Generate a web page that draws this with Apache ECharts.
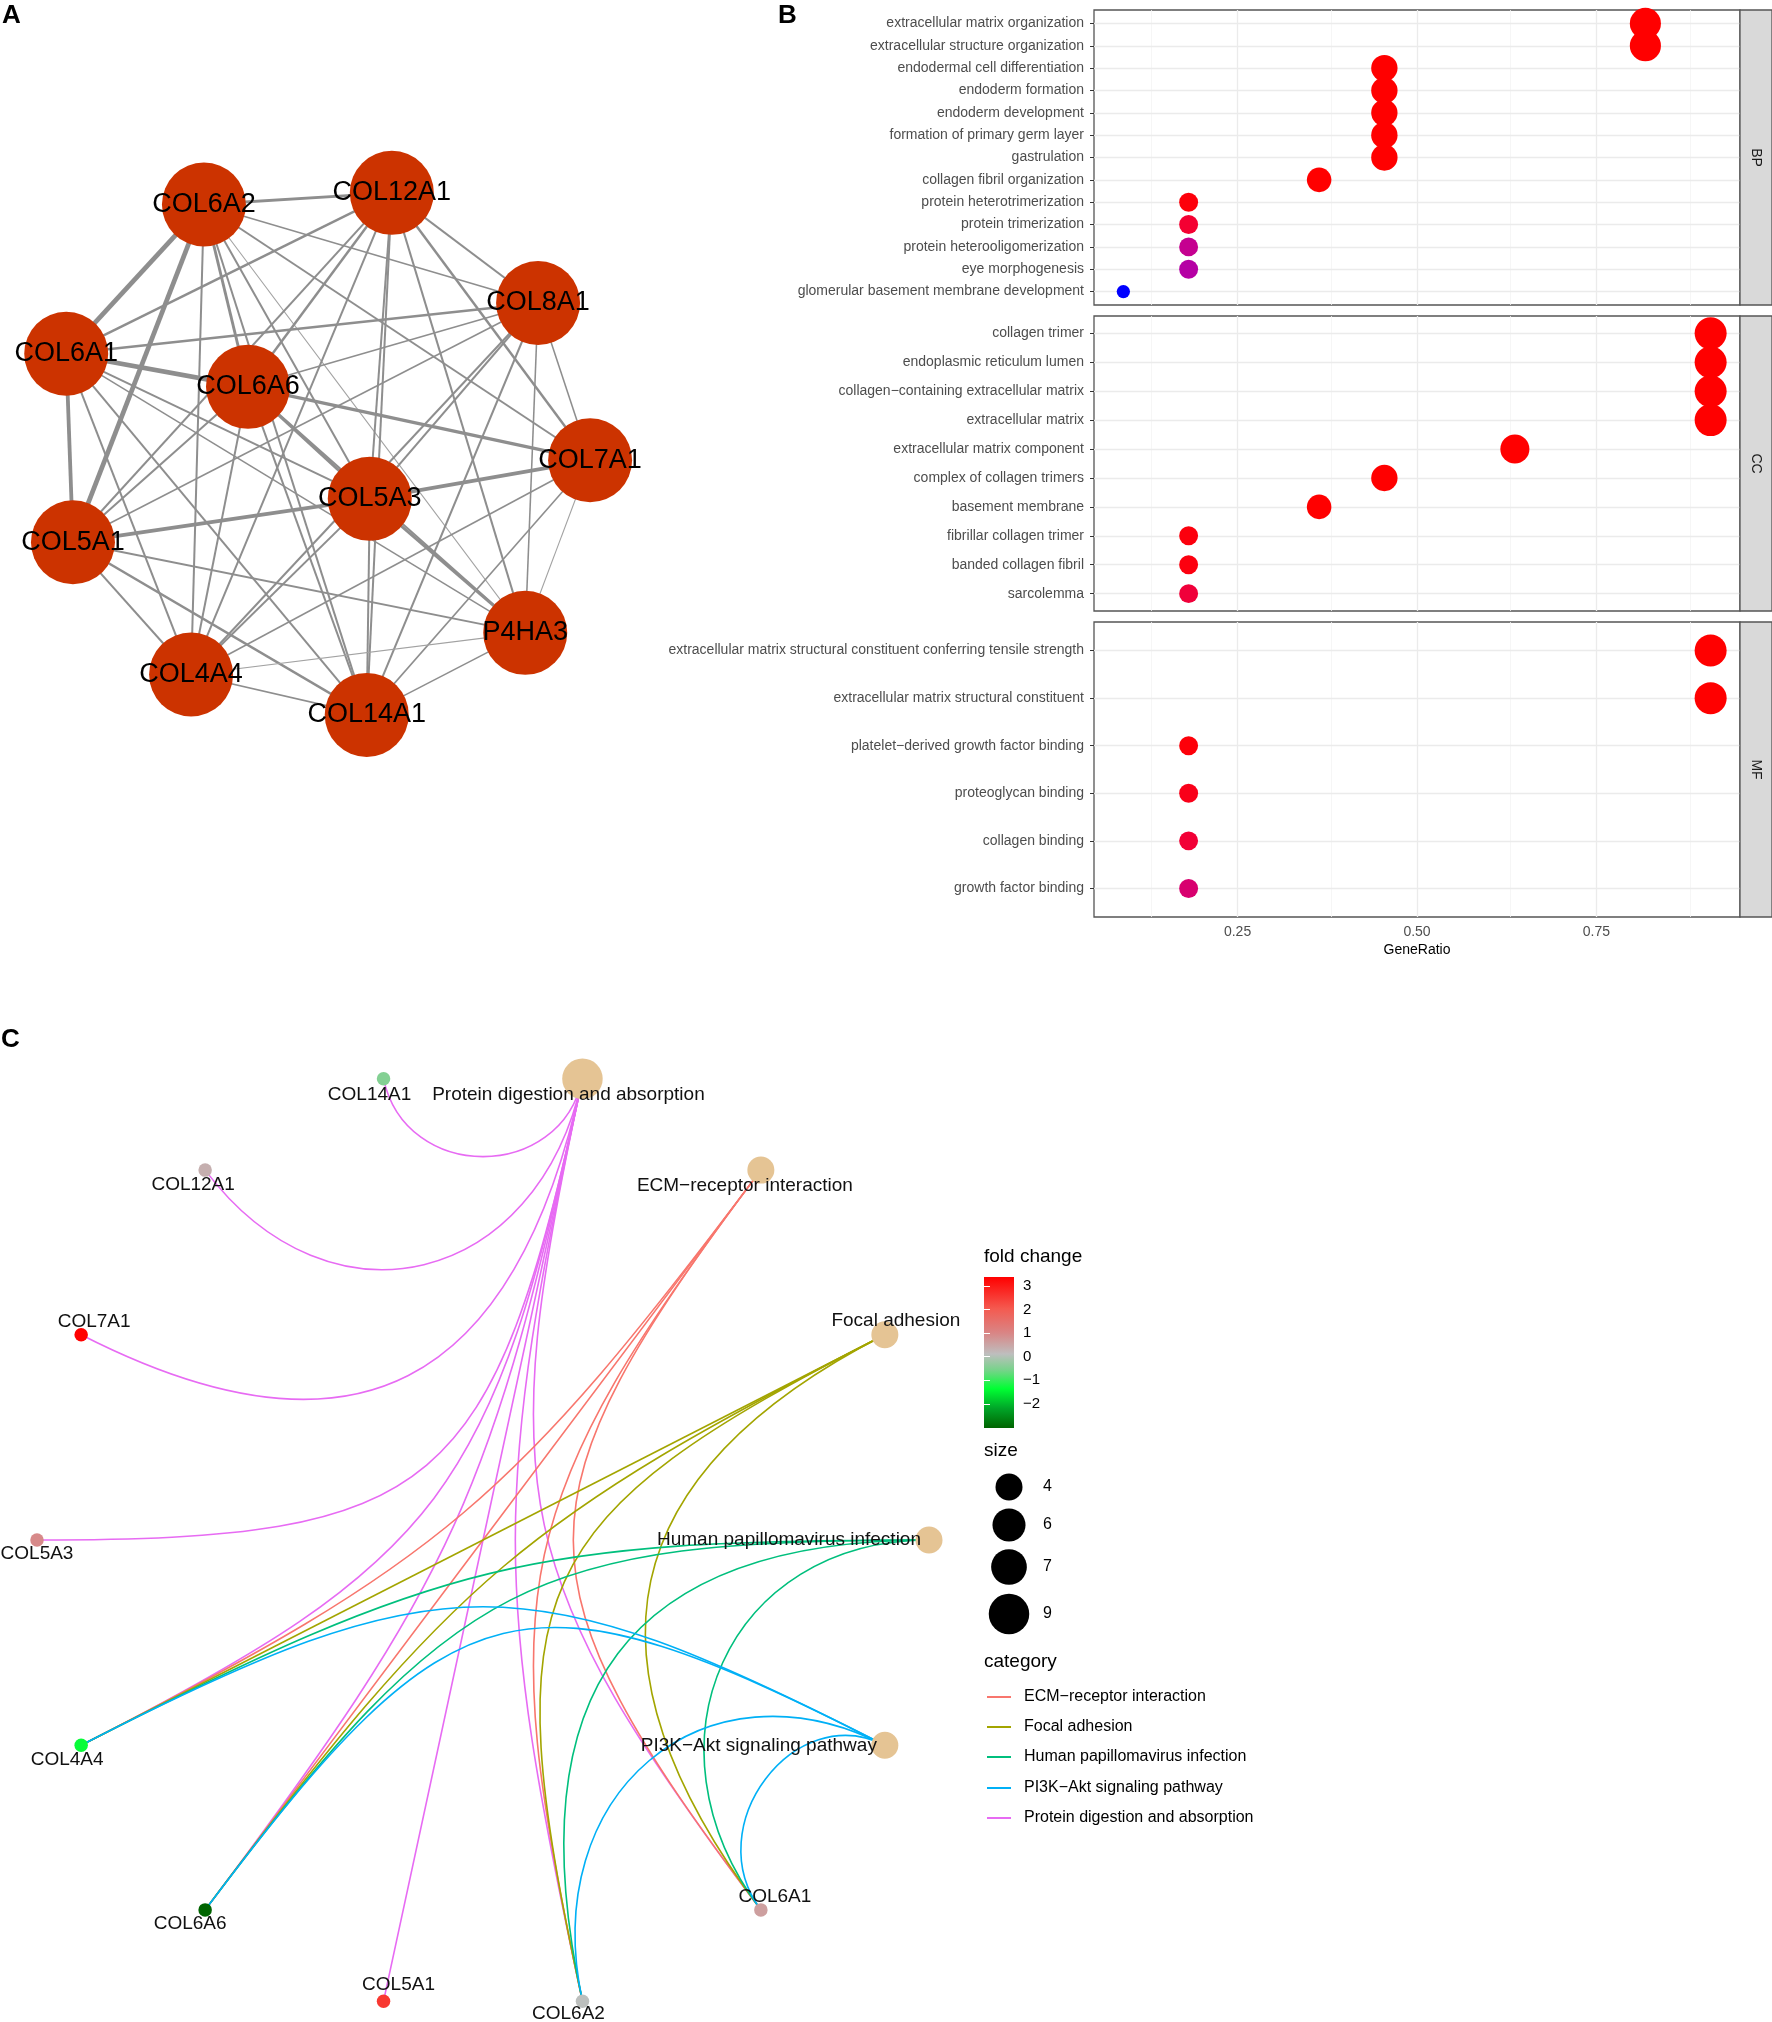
<!DOCTYPE html>
<html><head><meta charset="utf-8">
<script src="https://cdn.jsdelivr.net/npm/echarts@6/dist/echarts.min.js"></script>
<style>html,body{margin:0;padding:0;background:#fff}#c{width:1772px;height:2022px}</style>
</head><body><div id="c"></div>
<script>
const FONT = 'Liberation Sans, Arial, Helvetica, sans-serif';

// ---------------- Panel A : PPI network (layout coordinates, 0-100) ----------------
const ppiGenes   = ['COL6A2','COL12A1','COL8A1','COL6A1','COL6A6','COL7A1','COL5A3','COL5A1','P4HA3','COL4A4','COL14A1'];
const ppiLayoutX = [29.4, 60.1, 84.0, 6.9, 36.6, 92.5, 56.5, 8.0, 81.9, 27.3, 56.0];
const ppiLayoutY = [91.1, 93.0, 75.0, 66.7, 61.3, 49.3, 43.0, 35.9, 21.1, 14.3, 7.7];
// [gene, gene, interaction weight 1..5]
const ppiEdges = [
 ['COL6A2','COL12A1',3],['COL6A2','COL6A1',5],['COL6A2','COL5A1',5],['COL6A2','COL6A6',3],
 ['COL6A2','COL4A4',2],['COL6A2','COL5A3',2],['COL6A2','COL14A1',2],['COL6A2','P4HA3',1],
 ['COL6A2','COL8A1',1.5],['COL6A2','COL7A1',2],
 ['COL12A1','COL6A1',2.5],['COL12A1','COL6A6',2.5],['COL12A1','COL5A1',2],['COL12A1','COL4A4',2],
 ['COL12A1','COL5A3',2],['COL12A1','COL14A1',2],['COL12A1','COL8A1',2],['COL12A1','COL7A1',2.5],
 ['COL12A1','P4HA3',2],
 ['COL8A1','COL6A1',2.5],['COL8A1','COL6A6',1.5],['COL8A1','COL5A1',1.5],['COL8A1','COL5A3',2],
 ['COL8A1','COL4A4',2],['COL8A1','COL14A1',2],['COL8A1','COL7A1',1.5],['COL8A1','P4HA3',1.5],
 ['COL6A1','COL6A6',5],['COL6A1','COL5A1',4],['COL6A1','COL5A3',2],['COL6A1','COL4A4',2],
 ['COL6A1','COL14A1',2],['COL6A1','P4HA3',1.5],
 ['COL6A6','COL7A1',3.5],['COL6A6','COL5A3',3],['COL6A6','COL5A1',2],['COL6A6','COL4A4',2],
 ['COL6A6','COL14A1',2],['COL6A6','P4HA3',2],
 ['COL7A1','COL5A3',4],['COL7A1','COL4A4',1.5],['COL7A1','COL14A1',1.5],['COL7A1','P4HA3',1],
 ['COL5A3','COL5A1',4],['COL5A3','COL4A4',2],['COL5A3','COL14A1',2],['COL5A3','P4HA3',3],
 ['COL5A1','COL4A4',2],['COL5A1','COL14A1',2.5],['COL5A1','P4HA3',2],
 ['COL4A4','COL14A1',1.5],['COL4A4','P4HA3',1],['COL14A1','P4HA3',1.5]
];

// ---------------- Panel B : GO dot plot ----------------
const totalGenes = 11;
const bpTerms = ['extracellular matrix organization','extracellular structure organization','endodermal cell differentiation','endoderm formation','endoderm development','formation of primary germ layer','gastrulation','collagen fibril organization','protein heterotrimerization','protein trimerization','protein heterooligomerization','eye morphogenesis','glomerular basement membrane development'];
const bpCount = [9,9,5,5,5,5,5,4,2,2,2,2,1];
const bpPadj  = [1.2e-9,1.2e-9,3.5e-6,3.5e-6,4.1e-6,1.1e-5,4.3e-5,2.6e-5,0.0013,0.0062,0.0256,0.0300,0.0482];
const ccTerms = ['collagen trimer','endoplasmic reticulum lumen','collagen\u2212containing extracellular matrix','extracellular matrix','extracellular matrix component','complex of collagen trimers','basement membrane','fibrillar collagen trimer','banded collagen fibril','sarcolemma'];
const ccCount = [10,10,10,10,7,5,4,2,2,2];
const ccPadj  = [2.1e-14,3.3e-12,4.0e-12,4.0e-12,1.5e-10,6.2e-8,2.4e-5,0.0016,0.0019,0.0078];
const mfTerms = ['extracellular matrix structural constituent conferring tensile strength','extracellular matrix structural constituent','platelet\u2212derived growth factor binding','proteoglycan binding','collagen binding','growth factor binding'];
const mfCount = [10,10,2,2,2,2];
const mfPadj  = [1.0e-16,3.2e-14,0.0011,0.0031,0.0070,0.0188];
const ontologies = ['BP','CC','MF'];
const ratioTicks = [0.25,0.5,0.75];
const ratioMinorGrid = [0.125,0.375,0.625,0.875];

// ---------------- Panel C : KEGG cnet plot ----------------
const keggTerms = ['Protein digestion and absorption','ECM\u2212receptor interaction','Focal adhesion','Human papillomavirus infection','PI3K\u2212Akt signaling pathway'];
const keggGenes = [
 ['COL14A1','COL12A1','COL7A1','COL5A3','COL4A4','COL6A6','COL5A1','COL6A2','COL6A1'],
 ['COL4A4','COL6A6','COL6A2','COL6A1'],
 ['COL4A4','COL6A6','COL6A2','COL6A1'],
 ['COL4A4','COL6A6','COL6A2','COL6A1'],
 ['COL4A4','COL6A6','COL6A2','COL6A1']
];
const cnetGenes = ['COL14A1','COL12A1','COL7A1','COL5A3','COL4A4','COL6A6','COL5A1','COL6A2','COL6A1'];
const geneFoldChange = [-0.45, 0.35, 3.38, 0.95, -1.30, -3.02, 2.55, 0.10, 0.60];
// circular layout order and unit-circle coordinates
const cnetOrder = ['Human papillomavirus infection','Focal adhesion','ECM\u2212receptor interaction','Protein digestion and absorption','COL14A1','COL12A1','COL7A1','COL5A3','COL4A4','COL6A6','COL5A1','COL6A2','COL6A1','PI3K\u2212Akt signaling pathway'];
const cnetLayoutX = [1.000, 0.901, 0.623, 0.223, -0.223, -0.623, -0.901, -1.000, -0.901, -0.623, -0.223, 0.223, 0.623, 0.901];
const cnetLayoutY = [0.000, 0.434, 0.782, 0.975, 0.975, 0.782, 0.434, 0.000, -0.434, -0.782, -0.975, -0.975, -0.782, -0.434];
const sizeBreaks = [4,6,7,9];
const fcTicks = [3,2,1,0,-1,-2];

// ---------------- styles ----------------
const categoryColors = ['#E76BF3','#F8766D','#A3A500','#00BF7D','#00B0F6'];
const legendOrder = [1,2,3,4,0];
const padjColors = ['#FF0000','#F40031','#E80050','#DA006C','#CA0089','#B500A5','#9A00C3','#7300E0','#0000FF'];
const fcColors   = ['#006400','#00A528','#00FF33','#74D488','#BEBEBE','#D98585','#F45A50','#FF0000'];
const fcColorPos = [0, 0.13, 0.26, 0.38, 0.49, 0.63, 0.79, 1];
const cnetLabelOffset = {
 'COL14A1':[-14,16],'Protein digestion and absorption':[-14,16],'COL12A1':[-12,15],
 'ECM\u2212receptor interaction':[-16,16],'COL7A1':[13,-13],'Focal adhesion':[11,-14],
 'COL5A3':[0,14],'Human papillomavirus infection':[-140,0],'COL4A4':[-14,14],
 'PI3K\u2212Akt signaling pathway':[-126,0],'COL6A6':[-15,14],'COL6A1':[14,-13],
 'COL5A1':[15,-16],'COL6A2':[-14,13]
};
const B_LEFT = 1094, B_WIDTH = 646, B_H = 295, B_TOPS = [10,316,622], STRIP_W = 32;
const CB = {left:984, top:1277, width:30, height:151};

function hex2rgb(h){return [parseInt(h.slice(1,3),16),parseInt(h.slice(3,5),16),parseInt(h.slice(5,7),16)];}
function mix(c1,c2,t){const a=hex2rgb(c1),b=hex2rgb(c2);return 'rgb('+a.map((v,i)=>Math.round(v+(b[i]-v)*t)).join(',')+')';}
const fcMin = Math.min(...geneFoldChange), fcMax = Math.max(...geneFoldChange);
function fcColor(v){
  const p=(v-fcMin)/(fcMax-fcMin);
  for(let i=1;i<fcColorPos.length;i++){ if(p<=fcColorPos[i]){ return mix(fcColors[i-1],fcColors[i],(p-fcColorPos[i-1])/(fcColorPos[i]-fcColorPos[i-1])); } }
  return fcColors[fcColors.length-1];
}
const cnetSize = n => 13.5*Math.sqrt(n);
const dotSize = n => 13.3 + 8.12*Math.log(n);

// ---------- build panel A ----------
const ppiNodes = ppiGenes.map((g,i)=>({name:g, value:[ppiLayoutX[i], ppiLayoutY[i]]}));
const ppiLinks = ppiEdges.map(e=>({source:e[0], target:e[1], lineStyle:{width:0.9*e[2]+0.2, color: e[2]<=1 ? '#A2A2A2' : '#8E8E8E'}}));

// ---------- build panel B ----------
const allTerms=[bpTerms,ccTerms,mfTerms], allCount=[bpCount,ccCount,mfCount], allPadj=[bpPadj,ccPadj,mfPadj];
const allRatios = [].concat(...allCount).map(c=>c/totalGenes);
const rMin=Math.min(...allRatios), rMax=Math.max(...allRatios), rPad=(rMax-rMin)*0.05;
const pAll=[].concat(...allPadj);
const xAxes=[], yAxes=[], grids=[], series=[];

grids.push({left:24, top:150, width:612, height:612, show:false});
xAxes.push({gridIndex:0, type:'value', min:0, max:100, show:false});
yAxes.push({gridIndex:0, type:'value', min:0, max:100, show:false});
series.push({
  type:'graph', coordinateSystem:'cartesian2d', xAxisIndex:0, yAxisIndex:0, layout:'none',
  symbol:'circle', symbolSize:84, silent:true,
  itemStyle:{color:'#CC3300'},
  label:{show:true, position:'inside', color:'#000', fontSize:27, fontFamily:FONT},
  lineStyle:{opacity:1, curveness:0},
  data:ppiNodes, links:ppiLinks
});

for(let k=0;k<3;k++){
  const gi=k+1, terms=allTerms[k], n=terms.length, idx=terms.map((t,i)=>i);
  const last = k===2;
  grids.push({left:B_LEFT, top:B_TOPS[k], width:B_WIDTH, height:B_H, show:true, borderColor:'#555', borderWidth:1.3, backgroundColor:'rgba(0,0,0,0)'});
  xAxes.push({gridIndex:gi, type:'value', min:rMin-rPad, max:rMax+rPad,
    axisLine:{show:false}, splitLine:{show:false},
    axisTick:{show:last, customValues:ratioTicks, length:4, lineStyle:{color:'#333'}},
    axisLabel:{show:last, customValues:ratioTicks, formatter:v=>v.toFixed(2), color:'#4D4D4D', fontSize:14, margin:8, fontFamily:FONT},
    name: last?'GeneRatio':'', nameLocation:'middle', nameGap:26, nameTextStyle:{color:'#000', fontSize:14, fontFamily:FONT}
  });
  yAxes.push({gridIndex:gi, type:'value', inverse:true, min:-0.6, max:n-1+0.6,
    axisLine:{show:false}, splitLine:{show:false},
    axisTick:{show:true, customValues:idx, length:4, lineStyle:{color:'#333'}},
    axisLabel:{customValues:idx, formatter:v=>terms[Math.round(v)], color:'#4D4D4D', fontSize:14, margin:10, fontFamily:FONT}
  });
  const gridLines = [];
  ratioMinorGrid.forEach(v=>gridLines.push({xAxis:v, lineStyle:{color:'#F4F4F4', width:0.8, type:'solid'}}));
  ratioTicks.forEach(v=>gridLines.push({xAxis:v, lineStyle:{color:'#EBEBEB', width:1.3, type:'solid'}}));
  idx.forEach(v=>gridLines.push({yAxis:v, lineStyle:{color:'#EBEBEB', width:1.3, type:'solid'}}));
  series.push({
    type:'scatter', xAxisIndex:gi, yAxisIndex:gi, z:3, silent:true,
    itemStyle:{opacity:1},
    symbolSize: val=>dotSize(val[2]),
    data: terms.map((t,i)=>[allCount[k][i]/totalGenes, i, allCount[k][i], allPadj[k][i]]),
    markLine:{silent:true, z:1, symbol:['none','none'], symbolSize:0, label:{show:false}, animation:false,
      lineStyle:{type:'solid'}, emphasis:{disabled:true}, data:gridLines}
  });
}

// ---------- build panel C ----------
grids.push({left:37, top:1067, width:892, height:946, show:false});
xAxes.push({gridIndex:4, type:'value', min:-1, max:1, show:false});
yAxes.push({gridIndex:4, type:'value', min:-1, max:1, show:false});
const cnetNodes = cnetOrder.map((name,i)=>{
  const ti = keggTerms.indexOf(name);
  const gi = cnetGenes.indexOf(name);
  const isCat = ti>=0;
  return {
    name, value:[cnetLayoutX[i], cnetLayoutY[i]],
    symbolSize: isCat ? cnetSize(keggGenes[ti].length) : cnetSize(1),
    itemStyle:{color: isCat ? '#E5C494' : fcColor(geneFoldChange[gi])},
    label:{offset: cnetLabelOffset[name]}
  };
});
// edges: circular arcs bending toward the layout centre (control points pulled radially inward)
const nOrder = cnetOrder.length;
const cnetEdges=[];
keggTerms.forEach((term,ti)=>{
  keggGenes[ti].forEach(g=>{
    const a=cnetOrder.indexOf(term), b=cnetOrder.indexOf(g);
    const steps=Math.min(Math.abs(a-b), nOrder-Math.abs(a-b));
    const pull=Math.min(0.9, 0.225*steps);
    cnetEdges.push([cnetLayoutX[a],cnetLayoutY[a],cnetLayoutX[b],cnetLayoutY[b],pull,ti]);
  });
});
series.push({
  type:'custom', coordinateSystem:'cartesian2d', xAxisIndex:4, yAxisIndex:4, z:1, silent:true,
  encode:{x:[0,2], y:[1,3]},
  data:cnetEdges,
  renderItem:(params, api)=>{
    const x0=api.value(0), y0=api.value(1), x3=api.value(2), y3=api.value(3), s=api.value(4), ti=api.value(5);
    const p0=api.coord([x0,y0]), p3=api.coord([x3,y3]);
    const c1=api.coord([x0*(1-s), y0*(1-s)]), c2=api.coord([x3*(1-s), y3*(1-s)]);
    return {type:'bezierCurve', shape:{x1:p0[0],y1:p0[1],x2:p3[0],y2:p3[1],cpx1:c1[0],cpy1:c1[1],cpx2:c2[0],cpy2:c2[1]},
      style:{stroke:categoryColors[ti], lineWidth:1.6, fill:null}};
  }
});
series.push({
  type:'graph', coordinateSystem:'cartesian2d', xAxisIndex:4, yAxisIndex:4, layout:'none', z:3,
  symbol:'circle', silent:true,
  label:{show:true, position:'inside', color:'#111', fontSize:19, fontFamily:FONT},
  data:cnetNodes, links:[]
});

// colorbar axis
grids.push({left:CB.left, top:CB.top, width:CB.width, height:CB.height, show:false});
xAxes.push({gridIndex:5, type:'value', min:0, max:1, show:false});
yAxes.push({gridIndex:5, type:'value', position:'right', min:fcMin, max:fcMax, z:10,
  axisLine:{show:false}, splitLine:{show:false},
  axisTick:{show:true, inside:true, length:6, customValues:fcTicks, lineStyle:{color:'#fff', width:1}},
  axisLabel:{customValues:fcTicks, formatter:v=>String(v).replace('-','\u2212'), color:'#000', fontSize:15, margin:9, fontFamily:FONT}
});
yAxes.push({gridIndex:5, type:'value', position:'left', min:fcMin, max:fcMax, z:10,
  axisLine:{show:false}, splitLine:{show:false}, axisLabel:{show:false},
  axisTick:{show:true, inside:true, length:6, customValues:fcTicks, lineStyle:{color:'#fff', width:1}}
});

// ---------- graphics ----------
const graphic=[];
const letter=(t,x,y)=>({type:'text', left:x, top:y, style:{text:t, font:'bold 26px '+FONT, fill:'#000'}});
graphic.push(letter('A',2,3), letter('B',778,3), letter('C',1,1027));
ontologies.forEach((o,k)=>{
  graphic.push({type:'rect', shape:{x:B_LEFT+B_WIDTH, y:B_TOPS[k], width:STRIP_W, height:B_H}, style:{fill:'#D9D9D9', stroke:'#555', lineWidth:1.3}, z:2});
  graphic.push({type:'text', x:B_LEFT+B_WIDTH+STRIP_W/2, y:B_TOPS[k]+B_H/2, rotation:-Math.PI/2,
    style:{text:o, font:'14px '+FONT, fill:'#1A1A1A', textAlign:'center', textVerticalAlign:'middle'}, z:3});
});
// colorbar gradient
const stops = fcColorPos.map((p,i)=>({offset:1-p, color:fcColors[i]})).reverse();
graphic.push({type:'rect', shape:{x:CB.left, y:CB.top, width:CB.width, height:CB.height},
  style:{fill:new echarts.graphic.LinearGradient(0,0,0,1,stops)}, z:1});
const ltext=(t,x,y,fs)=>({type:'text', x, y, style:{text:t, font:fs+'px '+FONT, fill:'#000', textVerticalAlign:'middle'}, z:5});
graphic.push(ltext('fold change',984,1257,19));
graphic.push(ltext('size',984,1451,19));
const sizeY=[1487,1525,1567,1614];
sizeBreaks.forEach((s,i)=>{
  graphic.push({type:'circle', shape:{cx:1009, cy:sizeY[i], r:cnetSize(s)/2}, style:{fill:'#000'}, z:5});
  graphic.push(ltext(String(s),1043,sizeY[i],16));
});
graphic.push(ltext('category',984,1662,19));
const catY=[1697,1727,1757,1788,1818];
legendOrder.forEach((ti,j)=>{
  graphic.push({type:'line', shape:{x1:987,y1:catY[j],x2:1011,y2:catY[j]}, style:{stroke:categoryColors[ti], lineWidth:2}, z:5});
  graphic.push(ltext(keggTerms[ti],1024,catY[j],16));
});

const option = {
  animation:false, backgroundColor:'#fff', textStyle:{fontFamily:FONT},
  grid:grids, xAxis:xAxes, yAxis:yAxes, series,
  visualMap:[{type:'continuous', show:false, seriesIndex:[1,2,3], dimension:3,
    min:Math.min(...pAll), max:Math.max(...pAll), inRange:{color:padjColors}}],
  graphic
};
const chart = echarts.init(document.getElementById('c'), null, {renderer:'canvas'});
chart.setOption(option);
</script></body></html>
